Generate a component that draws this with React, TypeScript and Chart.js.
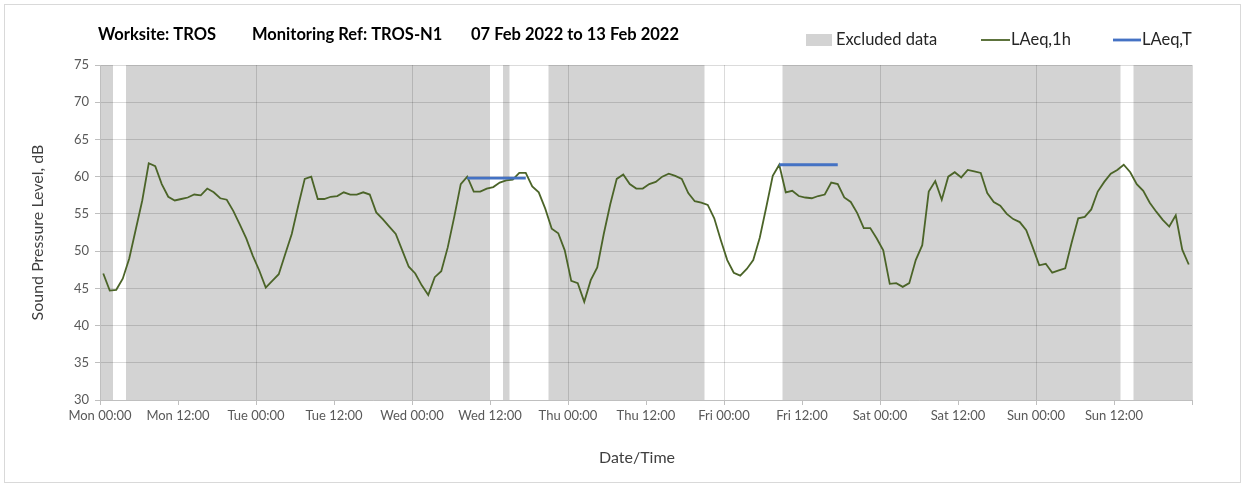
import React, { useEffect, useRef } from "react";
import { Chart, registerables } from "chart.js";

Chart.register(...registerables);

const W = 1251;
const H = 494;
const FONT = "Lato, 'Open Sans', sans-serif";

// Tick labels every 12 hours from Mon 00:00
const xTickLabels = [
  "Mon 00:00", "Mon 12:00", "Tue 00:00", "Tue 12:00", "Wed 00:00", "Wed 12:00",
  "Thu 00:00", "Thu 12:00", "Fri 00:00", "Fri 12:00", "Sat 00:00", "Sat 12:00",
  "Sun 00:00", "Sun 12:00",
];
const yMin = 30;
const yMax = 75;
const yStep = 5;
const hoursInWeek = 168;

// Hourly LAeq,1h values (dB), hour 0 = Mon 00:00-01:00
const laeq1h = [
  47.0, 44.7, 44.8, 46.3, 49.0, 52.9, 56.8, 61.8, 61.4, 59.0, 57.3, 56.8,
  57.0, 57.2, 57.6, 57.5, 58.4, 57.9, 57.1, 56.9, 55.4, 53.6, 51.7, 49.4,
  47.4, 45.1, 46.0, 46.9, 49.6, 52.3, 56.1, 59.7, 60.0, 57.0, 57.0, 57.3,
  57.4, 57.9, 57.6, 57.6, 57.9, 57.6, 55.2, 54.3, 53.3, 52.3, 50.1, 47.9,
  47.0, 45.4, 44.1, 46.5, 47.3, 50.5, 54.6, 59.0, 60.0, 58.0, 58.0, 58.4,
  58.6, 59.2, 59.5, 59.6, 60.5, 60.5, 58.7, 57.9, 55.7, 53.0, 52.4, 50.1,
  46.0, 45.7, 43.2, 46.1, 47.8, 52.3, 56.3, 59.7, 60.3, 59.0, 58.4, 58.4,
  59.0, 59.3, 60.0, 60.4, 60.1, 59.7, 57.8, 56.7, 56.5, 56.2, 54.4, 51.5,
  48.8, 47.1, 46.7, 47.6, 48.8, 51.8, 55.9, 60.1, 61.6, 57.9, 58.1, 57.4,
  57.2, 57.1, 57.4, 57.6, 59.2, 59.0, 57.2, 56.6, 55.1, 53.1, 53.1, 51.7,
  50.1, 45.6, 45.7, 45.2, 45.7, 48.8, 50.8, 58.0, 59.4, 56.9, 60.0, 60.6,
  59.9, 60.9, 60.7, 60.5, 57.8, 56.6, 56.1, 55.0, 54.3, 53.9, 52.8, 50.5,
  48.1, 48.3, 47.1, 47.4, 47.7, 51.2, 54.4, 54.6, 55.6, 58.0, 59.3, 60.4,
  60.9, 61.6, 60.6, 59.0, 58.1, 56.5, 55.3, 54.2, 53.3, 54.8, 50.2, 48.2,
];

// LAeq,T periods: first and last hour index, level (dB)
const laeqTFrom = [56, 104];
const laeqTTo = [65, 113];
const laeqTLevel = [59.8, 61.6];

// Excluded data ranges (hours from Mon 00:00)
const excludedStart = [0, 4, 62, 69, 105, 159];
const excludedEnd = [2, 60, 63, 93, 157, 168];

const titleParts = ["Worksite: TROS", "Monitoring Ref: TROS-N1", "07 Feb 2022 to 13 Feb 2022"];
const yTitle = "Sound Pressure Level, dB";
const xTitle = "Date/Time";

const GREEN = "#4b6428";
const BLUE = "#4472c4";
const BAND = "#d3d3d3";
const GRID = "rgba(0,0,0,0.14)";
const AXIS = "#bfbfbf";
const TEXT = "#404040";

const decorPlugin = {
  id: "decor",
  beforeDraw(chart: any) {
    const { ctx, chartArea, scales } = chart;
    const x = scales.x;
    ctx.save();
    ctx.fillStyle = "#ffffff";
    ctx.fillRect(0, 0, W, H);
    ctx.strokeStyle = "#d9d9d9";
    ctx.lineWidth = 1;
    ctx.strokeRect(4.5, 4.5, 1236, 478);
    ctx.fillStyle = BAND;
    for (let i = 0; i < excludedStart.length; i++) {
      const x1 = x.getPixelForValue(excludedStart[i]);
      const x2 = x.getPixelForValue(excludedEnd[i]);
      ctx.fillRect(x1, chartArea.top, x2 - x1, chartArea.bottom - chartArea.top);
    }
    ctx.restore();
  },
  afterDraw(chart: any) {
    const { ctx, chartArea } = chart;
    ctx.save();
    // Title
    ctx.fillStyle = "#000000";
    ctx.font = `bold 16.5px ${FONT}`;
    ctx.textBaseline = "middle";
    ctx.textAlign = "left";
    const titleX = [98, 252, 471];
    titleParts.forEach((t, i) => ctx.fillText(t, titleX[i], 35));

    // Legend
    ctx.font = `16.5px ${FONT}`;
    ctx.fillStyle = BAND;
    ctx.fillRect(806, 34, 26, 12);
    ctx.fillStyle = "#262626";
    ctx.fillText("Excluded data", 836, 40);
    ctx.strokeStyle = GREEN;
    ctx.lineWidth = 1.8;
    ctx.beginPath();
    ctx.moveTo(981, 40);
    ctx.lineTo(1010, 40);
    ctx.stroke();
    ctx.fillText("LAeq,1h", 1011, 40);
    ctx.strokeStyle = BLUE;
    ctx.lineWidth = 2.8;
    ctx.beginPath();
    ctx.moveTo(1113, 40);
    ctx.lineTo(1141, 40);
    ctx.stroke();
    ctx.fillText("LAeq,T", 1142, 40);

    // Axis titles
    ctx.fillStyle = TEXT;
    ctx.font = `16px ${FONT}`;
    ctx.textAlign = "center";
    ctx.fillText(xTitle, 637, 458);
    ctx.translate(38, (chartArea.top + chartArea.bottom) / 2);
    ctx.rotate(-Math.PI / 2);
    ctx.fillText(yTitle, 0, 0);
    ctx.restore();
  },
};

export default function App() {
  const ref = useRef<HTMLCanvasElement | null>(null);

  useEffect(() => {
    if (!ref.current) return;
    const lineData = laeq1h.map((v, i) => ({ x: i + 0.5, y: v }));
    const tData: any[] = [];
    laeqTFrom.forEach((from, k) => {
      for (let h = from; h <= laeqTTo[k]; h++) tData.push({ x: h + 0.5, y: laeqTLevel[k] });
      tData.push({ x: laeqTTo[k] + 0.6, y: null });
    });

    const chart = new Chart(ref.current, {
      type: "line",
      data: {
        datasets: [
          {
            label: "LAeq,T",
            data: tData,
            borderColor: BLUE,
            borderWidth: 2.8,
            pointRadius: 0,
            spanGaps: false,
            order: 0,
          },
          {
            label: "LAeq,1h",
            data: lineData,
            borderColor: GREEN,
            borderWidth: 1.8,
            pointRadius: 0,
            tension: 0,
            order: 1,
          },
        ],
      },
      options: {
        animation: false,
        responsive: false,
        devicePixelRatio: 1,
        layout: { padding: { left: 0, top: 65, right: 59, bottom: 0 } },
        plugins: {
          legend: { display: false },
          title: { display: false },
          tooltip: { enabled: false },
        },
        scales: {
          x: {
            type: "linear",
            min: 0,
            max: hoursInWeek,
            afterFit: (s: any) => {
              s.height = 94;
            },
            ticks: {
              stepSize: 12,
              autoSkip: false,
              maxRotation: 0,
              padding: 3,
              color: "#595959",
              font: { family: FONT, size: 13 },
              callback: (v: any) => xTickLabels[Math.round(Number(v) / 12)] ?? "",
            },
            grid: {
              color: (c: any) => (c.tick && c.tick.value % 24 === 0 ? GRID : "rgba(0,0,0,0)"),
              tickColor: AXIS,
              tickLength: 5,
              drawTicks: true,
            },
            border: { display: true, color: AXIS },
          },
          y: {
            min: yMin,
            max: yMax,
            afterFit: (s: any) => {
              s.width = 100;
            },
            ticks: {
              stepSize: yStep,
              padding: 6,
              color: "#595959",
              font: { family: FONT, size: 13 },
            },
            grid: {
              color: GRID,
              tickColor: AXIS,
              tickLength: 5,
            },
            border: { display: true, color: AXIS },
          },
        },
      },
      plugins: [decorPlugin],
    });
    return () => chart.destroy();
  }, []);

  return (
    <div style={{ position: "fixed", left: 0, top: 0, width: W, height: H, background: "#fff" }}>
      <canvas ref={ref} width={W} height={H} style={{ width: W, height: H, display: "block" }} />
    </div>
  );
}
